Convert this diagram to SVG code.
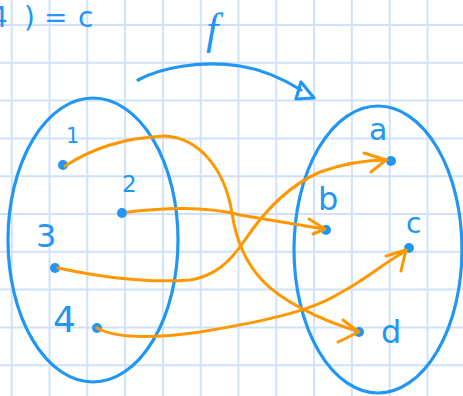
<svg xmlns="http://www.w3.org/2000/svg" width="463" height="396" viewBox="0 0 463 396">
<style>
.grid line{stroke:#cfe1fb;stroke-width:2}
.b{fill:none;stroke:#2196f3;stroke-width:3.2;stroke-linecap:round;stroke-linejoin:round}
.o{fill:none;stroke:#ff9800;stroke-width:3;stroke-linecap:round;stroke-linejoin:round}
.dot{fill:#2196f3}
.t{fill:#2196f3;font-family:"DejaVu Sans",sans-serif}
</style>
<rect width="463" height="396" fill="#ffffff"/>
<g class="grid">
<line x1="11.7" y1="0" x2="11.7" y2="396"/><line x1="49.5" y1="0" x2="49.5" y2="396"/><line x1="87.3" y1="0" x2="87.3" y2="396"/><line x1="125.1" y1="0" x2="125.1" y2="396"/><line x1="162.9" y1="0" x2="162.9" y2="396"/><line x1="200.7" y1="0" x2="200.7" y2="396"/><line x1="238.5" y1="0" x2="238.5" y2="396"/><line x1="276.3" y1="0" x2="276.3" y2="396"/><line x1="314.1" y1="0" x2="314.1" y2="396"/><line x1="351.9" y1="0" x2="351.9" y2="396"/><line x1="389.7" y1="0" x2="389.7" y2="396"/><line x1="427.5" y1="0" x2="427.5" y2="396"/>
<line x1="0" y1="25" x2="463" y2="25"/><line x1="0" y1="62.8" x2="463" y2="62.8"/><line x1="0" y1="100.6" x2="463" y2="100.6"/><line x1="0" y1="138.4" x2="463" y2="138.4"/><line x1="0" y1="176.2" x2="463" y2="176.2"/><line x1="0" y1="214" x2="463" y2="214"/><line x1="0" y1="251.8" x2="463" y2="251.8"/><line x1="0" y1="289.6" x2="463" y2="289.6"/><line x1="0" y1="327.4" x2="463" y2="327.4"/><line x1="0" y1="365.2" x2="463" y2="365.2"/>
</g>
<text class="t" font-size="28" x="-10 24 30 44 62 78" y="27">4) = c</text>
<g id="domain">
<ellipse class="b" cx="93" cy="240" rx="85" ry="142"/>
</g>
<g id="codomain">
<ellipse class="b" cx="378" cy="249.5" rx="84" ry="143.5"/>
</g>
<g id="f-label">
<path class="b" d="M138,80 C160,68 200,60 240,66 C265,70 285,80 301,90"/>
<path class="b" d="M301,82 L296,99 L314,98 Z" fill="#fff"/>
<text class="t" font-size="44" font-style="italic" x="206" y="44" style="font-family:'Liberation Serif',serif">f</text>
</g>
<g id="n1"><circle class="dot" cx="63" cy="165" r="5"/><text class="t" font-size="21" x="66" y="143">1</text></g>
<g id="n2"><circle class="dot" cx="122" cy="213" r="5"/><text class="t" font-size="23" x="122" y="192">2</text></g>
<g id="n3"><circle class="dot" cx="55" cy="268" r="5"/><text class="t" font-size="32" x="36" y="247">3</text></g>
<g id="n4"><circle class="dot" cx="97" cy="328" r="5"/><text class="t" font-size="36" x="53" y="332">4</text></g>
<g id="na"><circle class="dot" cx="391" cy="161" r="5"/><text class="t" font-size="30" x="369" y="140">a</text></g>
<g id="nb"><circle class="dot" cx="326" cy="230" r="5"/><text class="t" font-size="32" x="318" y="210">b</text></g>
<g id="nc"><circle class="dot" cx="409" cy="248" r="5"/><text class="t" font-size="28" x="406" y="233">c</text></g>
<g id="nd"><circle class="dot" cx="359" cy="332" r="5"/><text class="t" font-size="32" x="381" y="343">d</text></g>
<g id="connectors">
<path class="o" d="M65,166 C90,150 120,138 165,136 C200,138 225,170 232,213 C236,240 245,262 262,280 C280,300 320,320 357,331"/>
<path class="o" d="M343,320 L359,332 L338,342"/>
<path class="o" d="M128,212 C170,207 210,207 240,215 C270,220 300,225 324,229"/>
<path class="o" d="M309,219 L325,229 L313,234"/>
<path class="o" d="M58,268 C100,277 150,283 190,280 C215,276 230,262 245,240 C265,210 290,185 320,172 C345,163 365,160 387,160"/>
<path class="o" d="M364,153 L386,160 L371,172"/>
<path class="o" d="M97,328 C115,338 150,339 200,332 C260,322 310,312 340,293 C365,280 385,262 406,251"/>
<path class="o" d="M386,256 L406,250 L401,271"/>
</g>
</svg>
